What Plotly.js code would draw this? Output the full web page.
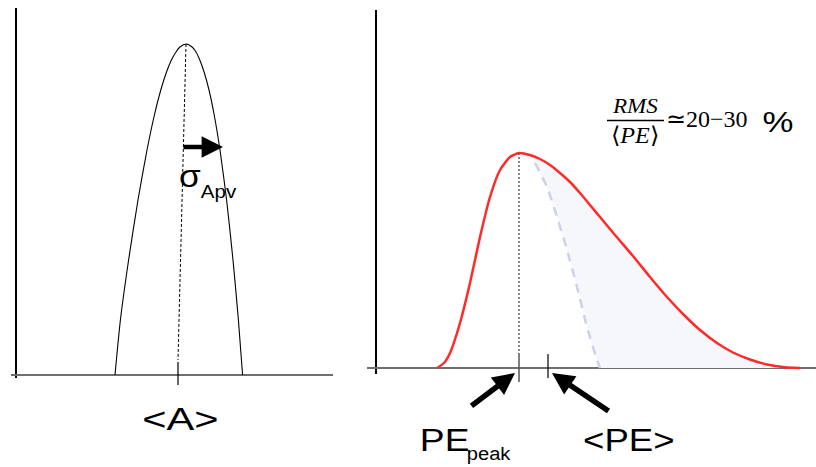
<!DOCTYPE html>
<html>
<head>
<meta charset="utf-8">
<script src="https://cdn.plot.ly/plotly-3.0.1.min.js"></script>
<style>
  html, body { margin: 0; padding: 0; background: #ffffff; }
  #chart { width: 816px; height: 467px; }
</style>
</head>
<body>
<div id="chart"></div>
<script>
// ---------------- DATA ----------------
// Left panel: amplitude distribution (x = amplitude, y = counts)
const ampX = [99, 104.4, 112.6, 122, 131, 138.4, 144.8, 150.5, 155.4, 160, 163.9, 170,
              176.1, 180, 183.8, 188.1, 193, 198.2, 204, 210.6, 217, 222.4, 226.6];
const ampY = [0, 55, 115, 175, 225, 260, 285, 303, 315, 323, 328, 331,
              328, 323, 315, 303, 285, 260, 225, 175, 115, 55, 0];
const meanA = 162;            // <A>
const meanLineBottom = 15;     // where the dotted <A> line ends

// Right panel: photo-electron distribution (x = PE, y = counts)
const peX = [61, 68, 74, 84, 94, 104, 114, 124, 134, 143, 154, 164, 174, 184, 194, 204, 214, 224,
             239, 257, 274, 291, 309, 324, 341, 357, 374, 391, 409, 424];
const peY = [0, 5, 15, 45, 85, 131, 171, 198, 211, 215, 213, 209, 203, 195, 186, 175, 163, 151,
             133, 112, 91, 71, 52, 38, 25, 15.5, 8.5, 3.5, 0.7, 0];
// dashed (symmetric) tail
const dashX = [159, 171, 181, 191, 201, 211, 221, 224];
const dashY = [205, 181, 151, 118, 81, 41, 8, 0];
const pePeak = 143;            // PE_peak
const peMean = 172;            // <PE>
const peLineBottom = 15;

// ---------------- LAYOUT HELPERS ----------------
const W = 816, H = 467;
const px = v => v / W;
const py = v => 1 - v / H;

const peakIdx = ampY.indexOf(Math.max(...ampY));
const pePeakIdx = peY.indexOf(Math.max(...peY));
const tailStart = peX.findIndex(v => v >= 154);

const traces = [
  // left distribution
  { x: ampX, y: ampY, xaxis: 'x', yaxis: 'y', mode: 'lines',
    line: { color: '#000000', width: 1.1, shape: 'spline', smoothing: 0.6 }, hoverinfo: 'skip' },
  // dotted <A> line
  { x: [ampX[peakIdx], meanA], y: [ampY[peakIdx], meanLineBottom], xaxis: 'x', yaxis: 'y', mode: 'lines',
    line: { color: '#000000', width: 1, dash: '3px,2px' }, hoverinfo: 'skip' },
  // dashed symmetric tail (also lower boundary of the shaded area)
  { x: dashX, y: dashY, xaxis: 'x2', yaxis: 'y2', mode: 'lines',
    line: { color: '#cdd2e6', width: 2.5, dash: '9px,7px', shape: 'spline', smoothing: 0.6 }, hoverinfo: 'skip' },
  // shaded area between dashed tail and the real tail
  { x: peX.slice(tailStart), y: peY.slice(tailStart), xaxis: 'x2', yaxis: 'y2', mode: 'lines',
    line: { width: 0, shape: 'spline', smoothing: 0.6 }, fill: 'tonexty', fillcolor: '#f6f7fb', hoverinfo: 'skip' },
  // red PE distribution
  { x: peX, y: peY, xaxis: 'x2', yaxis: 'y2', mode: 'lines',
    line: { color: '#ff2a2a', width: 2.5, shape: 'spline', smoothing: 0.6 }, hoverinfo: 'skip' },
  // dotted PE_peak line
  { x: [pePeak, pePeak], y: [peY[pePeakIdx], peLineBottom], xaxis: 'x2', yaxis: 'y2', mode: 'lines',
    line: { color: '#555555', width: 1.4, dash: '2px,2px' }, hoverinfo: 'skip' }
];

const axisCommon = { showgrid: false, showticklabels: false, ticks: '', fixedrange: true, zeroline: true };

const sansFont = 'Liberation Sans, Arial, sans-serif';
const serifFont = 'Liberation Serif, Times New Roman, serif';

// label annotations (centre positions in pixels) and their horizontal stretch
const labels = [
  { text: 'σ', x: 190, y: 176, size: 32, font: sansFont, stretch: 1.1 },
  { text: 'Apv', x: 218.5, y: 192, size: 18, font: sansFont, stretch: 1.14 },
  { text: '&lt;A&gt;', x: 180, y: 419, size: 32, font: sansFont, stretch: 1.3 },
  { text: 'PE', x: 444.5, y: 440.5, size: 31, font: sansFont, stretch: 1.2 },
  { text: 'peak', x: 489, y: 453.5, size: 19, font: sansFont, stretch: 1.06 },
  { text: '&lt;PE&gt;', x: 628.5, y: 440.5, size: 31, font: sansFont, stretch: 1.18 },
  { text: '<i>RMS</i>', x: 635, y: 105.6, size: 22, font: serifFont, stretch: 1.05 },
  { text: '⟨<i>PE</i>⟩', x: 635, y: 135.6, size: 23, font: serifFont, stretch: 1.05 },
  { text: '≃20−30', x: 707, y: 119.2, size: 24, font: serifFont, stretch: 1 },
  { text: '%', x: 777.5, y: 122.3, size: 29, font: sansFont, stretch: 1.2 }
];

const annotations = labels.map(l => ({
  xref: 'paper', yref: 'paper', x: px(l.x), y: py(l.y), xanchor: 'center', yanchor: 'middle',
  text: l.text, showarrow: false, font: { family: l.font, size: l.size, color: '#000000' }
}));

// arrows
annotations.push(
  { xref: 'x', yref: 'y', x: 207, y: 228, ax: -41, ay: 0, text: '', showarrow: true,
    arrowhead: 2, arrowsize: 0.95, arrowwidth: 4.5, arrowcolor: '#000000', standoff: 0 },
  { xref: 'x2', yref: 'y2', x: pePeak, y: 0, xshift: -4, yshift: -5, ax: -45, ay: 34, text: '', showarrow: true,
    arrowhead: 2, arrowsize: 0.8, arrowwidth: 5.5, arrowcolor: '#000000', standoff: 0 },
  { xref: 'x2', yref: 'y2', x: peMean, y: 0, xshift: 4, yshift: -5, ax: 58, ay: 39, text: '', showarrow: true,
    arrowhead: 2, arrowsize: 0.8, arrowwidth: 5.5, arrowcolor: '#000000', standoff: 0 }
);

const shapes = [
  // tick marks under the axes
  { type: 'line', xref: 'x', yref: 'paper', x0: meanA, x1: meanA, y0: py(385), y1: py(362),
    line: { color: '#000000', width: 1.2 } },
  { type: 'line', xref: 'x2', yref: 'paper', x0: pePeak, x1: pePeak, y0: py(382), y1: py(353),
    line: { color: '#555555', width: 1.5 } },
  { type: 'line', xref: 'x2', yref: 'paper', x0: peMean, x1: peMean, y0: py(378), y1: py(354),
    line: { color: '#000000', width: 1.2 } },
  // fraction bar
  { type: 'line', xref: 'paper', yref: 'paper', x0: px(607), x1: px(664), y0: py(120.5), y1: py(120.5),
    line: { color: '#000000', width: 1.5 } }
];

const layout = {
  width: W, height: H,
  margin: { l: 0, r: 0, t: 0, b: 0, pad: 0 },
  paper_bgcolor: '#ffffff', plot_bgcolor: 'rgba(0,0,0,0)',
  showlegend: false,
  xaxis: Object.assign({}, axisCommon, { domain: [px(11), px(333)], range: [-5, 317],
    zerolinecolor: '#000000', zerolinewidth: 1.2, anchor: 'y' }),
  yaxis: Object.assign({}, axisCommon, { domain: [py(378), py(8)], range: [-3, 367],
    zerolinecolor: '#6e6e6e', zerolinewidth: 1.6, anchor: 'x' }),
  xaxis2: Object.assign({}, axisCommon, { domain: [px(367), 1], range: [-9, 440],
    zerolinecolor: '#000000', zerolinewidth: 1.2, anchor: 'y2' }),
  yaxis2: Object.assign({}, axisCommon, { domain: [py(374), py(10)], range: [-6, 358],
    zerolinecolor: '#6e6e6e', zerolinewidth: 1.6, anchor: 'x2' }),
  annotations: annotations,
  shapes: shapes
};

Plotly.newPlot('chart', traces, layout, { staticPlot: true, displayModeBar: false }).then(gd => {
  gd.querySelectorAll('g.annotation').forEach(g => {
    const i = +g.getAttribute('data-index');
    const l = labels[i];
    if (l && l.stretch !== 1) {
      const t = g.querySelector('text.annotation-text');
      if (t) {
        t.style.transformBox = 'fill-box';
        t.style.transformOrigin = '50% 50%';
        t.style.transform = 'scaleX(' + l.stretch + ')';
      }
    }
  });
});
</script>
</body>
</html>
